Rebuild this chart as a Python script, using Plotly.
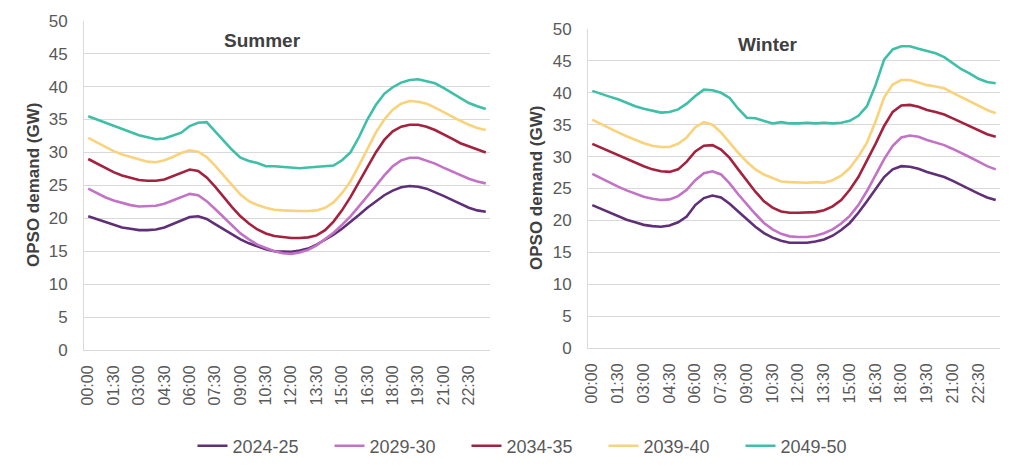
import plotly.graph_objects as go

times = [f"{h:02d}:{m:02d}" for h in range(24) for m in (0, 30)]
tick_labels = times[::3]

series_names = ["2024-25", "2029-30", "2034-35", "2039-40", "2049-50"]
colors = ["#5f2f78", "#c273c6", "#a3223f", "#f9d27c", "#3fbfa7"]

summer_2024 = [20.3, 19.9, 19.4, 19.0, 18.6, 18.4, 18.2, 18.2, 18.3, 18.6, 19.1, 19.7, 20.2, 20.3, 19.9, 19.1,
               18.3, 17.5, 16.8, 16.2, 15.7, 15.3, 15.0, 14.9, 14.9, 15.1, 15.4, 16.0, 16.7, 17.5, 18.4, 19.4,
               20.5, 21.6, 22.6, 23.5, 24.2, 24.7, 24.9, 24.8, 24.5, 24.0, 23.4, 22.8, 22.2, 21.6, 21.2, 21.0]
summer_2029 = [24.5, 23.8, 23.2, 22.7, 22.3, 22.0, 21.8, 21.8, 21.9, 22.2, 22.7, 23.3, 23.7, 23.5, 22.6, 21.4,
               20.2, 18.9, 17.7, 16.8, 16.0, 15.5, 15.0, 14.7, 14.6, 14.8, 15.2, 15.9, 16.8, 17.8, 19.0, 20.3,
               21.8, 23.3, 24.9, 26.5, 27.9, 28.8, 29.2, 29.2, 28.8, 28.3, 27.7, 27.1, 26.5, 26.0, 25.6, 25.3]
summer_2034 = [29.0, 28.3, 27.6, 27.0, 26.5, 26.1, 25.8, 25.7, 25.7, 25.9, 26.4, 27.0, 27.4, 27.2, 26.2, 24.8,
               23.2, 21.7, 20.3, 19.2, 18.3, 17.7, 17.3, 17.1, 17.0, 17.0, 17.1, 17.4, 18.2, 19.5, 21.2, 23.2,
               25.5, 27.8, 30.0, 31.9, 33.2, 33.9, 34.2, 34.2, 33.9, 33.4, 32.8, 32.1, 31.4, 30.9, 30.4, 30.0]
summer_2039 = [32.2, 31.5, 30.8, 30.2, 29.7, 29.3, 28.9, 28.6, 28.5, 28.8, 29.3, 29.9, 30.3, 30.1, 29.3, 28.0,
               26.5, 25.0, 23.6, 22.6, 22.0, 21.6, 21.3, 21.2, 21.1, 21.1, 21.1, 21.2, 21.6, 22.4, 23.8, 25.6,
               28.0, 30.6, 33.0, 35.0, 36.5, 37.4, 37.8, 37.7, 37.4, 36.8, 36.1, 35.4, 34.8, 34.2, 33.7, 33.4]
summer_2049 = [35.5, 35.0, 34.5, 34.0, 33.5, 33.0, 32.6, 32.3, 32.0, 32.1, 32.5, 33.0, 34.0, 34.5, 34.6, 33.2,
               31.8, 30.4, 29.2, 28.7, 28.4, 27.9, 27.9, 27.8, 27.7, 27.6, 27.7, 27.8, 27.9, 28.0, 28.8, 30.0,
               32.3, 35.0, 37.2, 38.9, 39.9, 40.6, 41.0, 41.1, 40.8, 40.5, 39.8, 39.0, 38.2, 37.5, 37.0, 36.6]

winter_2024 = [22.4, 21.8, 21.2, 20.6, 20.1, 19.7, 19.3, 19.1, 19.0, 19.2, 19.7, 20.6, 22.4, 23.5, 23.9, 23.6,
               22.6, 21.4, 20.2, 19.0, 18.0, 17.3, 16.8, 16.5, 16.5, 16.5, 16.7, 17.0, 17.6, 18.5, 19.6, 21.2,
               23.0, 25.0, 26.8, 28.0, 28.5, 28.4, 28.1, 27.6, 27.2, 26.8, 26.2, 25.5, 24.8, 24.2, 23.6, 23.2]
winter_2029 = [27.3, 26.6, 26.0, 25.3, 24.7, 24.2, 23.7, 23.4, 23.2, 23.3, 23.8, 24.8, 26.3, 27.4, 27.7, 27.2,
               25.8, 24.1, 22.5, 21.0, 19.6, 18.6, 17.9, 17.5, 17.4, 17.4, 17.6, 18.0, 18.6, 19.5, 20.7, 22.4,
               24.6, 27.0, 29.6, 31.7, 33.0, 33.3, 33.1, 32.6, 32.2, 31.8, 31.2, 30.6, 29.9, 29.2, 28.5, 28.0]
winter_2034 = [32.0, 31.4, 30.8, 30.2, 29.6, 29.0, 28.5, 28.0, 27.7, 27.6, 28.0, 29.2, 30.8, 31.7, 31.8, 31.1,
               29.8, 28.0, 26.2, 24.5, 23.0, 22.0, 21.4, 21.2, 21.2, 21.3, 21.3, 21.6, 22.2, 23.2, 24.8, 26.8,
               29.3, 32.0, 34.8, 37.0, 38.0, 38.1, 37.8, 37.3, 37.0, 36.6, 36.0, 35.4, 34.7, 34.1, 33.5, 33.1]
winter_2039 = [35.8, 35.1, 34.4, 33.8, 33.2, 32.6, 32.1, 31.7, 31.5, 31.5, 32.0, 33.0, 34.6, 35.4, 35.0, 33.8,
               32.2, 30.6, 29.2, 28.0, 27.2, 26.6, 26.1, 26.0, 25.9, 25.9, 26.0, 25.9, 26.3, 27.0, 28.2, 30.0,
               32.2, 35.5, 39.3, 41.3, 42.0, 42.0, 41.6, 41.2, 41.0, 40.7, 40.0, 39.3, 38.6, 38.0, 37.3, 36.8]
winter_2049 = [40.3, 39.8, 39.4, 39.0, 38.4, 37.9, 37.5, 37.2, 36.9, 37.0, 37.4, 38.3, 39.5, 40.5, 40.4, 40.0,
               39.2, 37.5, 36.1, 36.0, 35.6, 35.2, 35.4, 35.2, 35.2, 35.3, 35.2, 35.3, 35.2, 35.3, 35.6, 36.4,
               37.9, 41.2, 45.2, 46.8, 47.3, 47.3, 46.9, 46.5, 46.2, 45.6, 44.6, 43.7, 43.0, 42.2, 41.7, 41.5]

summer = [summer_2024, summer_2029, summer_2034, summer_2039, summer_2049]
winter = [winter_2024, winter_2029, winter_2034, winter_2039, winter_2049]

W, H = 1024, 472
OFF = 8  # page body margin offset
FONT = "Liberation Sans, Arial, sans-serif"
TICK_COLOR = "#595959"
GRID = "#d9d9d9"


def fx(px):
    return (px - OFF) / W


def fy(py):
    return (H - (py - OFF)) / H


fig = go.Figure()
for name, col, ys in zip(series_names, colors, summer):
    fig.add_trace(go.Scatter(x=times, y=ys, mode="lines", name=name,
                             line=dict(color=col, width=2.6), xaxis="x", yaxis="y"))
for name, col, ys in zip(series_names, colors, winter):
    fig.add_trace(go.Scatter(x=times, y=ys, mode="lines", name=name, showlegend=False,
                             line=dict(color=col, width=2.6), xaxis="x2", yaxis="y2"))


def xax(domain, anchor):
    return dict(domain=domain, anchor=anchor, type="category", range=[-0.5, 47.5],
                tickmode="array", tickvals=tick_labels, ticktext=tick_labels,
                tickangle=-90, tickfont=dict(family=FONT, size=16, color=TICK_COLOR),
                showline=True, linecolor=GRID, linewidth=1, showgrid=False,
                ticks="", ticklabelstandoff=8, fixedrange=True, automargin=False)


def yax(domain, anchor):
    return dict(domain=domain, anchor=anchor, range=[0, 50], dtick=5, tick0=0,
                tickfont=dict(family=FONT, size=17, color=TICK_COLOR),
                showgrid=True, gridcolor=GRID, gridwidth=1,
                showline=True, linecolor=GRID, linewidth=1, zeroline=False,
                ticks="", ticklabelstandoff=12, fixedrange=True, automargin=False)


fig.update_layout(
    width=W, height=H,
    margin=dict(l=0, r=0, t=0, b=0, autoexpand=False),
    paper_bgcolor="white", plot_bgcolor="white",
    font=dict(family=FONT, color=TICK_COLOR),
    xaxis=xax([fx(84), fx(490)], "y"),
    yaxis=yax([fy(350), fy(20.7)], "x"),
    xaxis2=xax([fx(588), fx(1000)], "y2"),
    yaxis2=yax([fy(348), fy(29)], "x2"),
    showlegend=True,
    legend=dict(orientation="h", x=fx(535), xanchor="center", y=fy(446), yanchor="middle",
                font=dict(family=FONT, size=18, color=TICK_COLOR),
                entrywidth=92, entrywidthmode="pixels", itemwidth=30, bgcolor="rgba(0,0,0,0)"),
    annotations=[
        dict(text="<b>Summer</b>", x=fx(262), y=fy(40), xref="paper", yref="paper",
             xanchor="center", yanchor="middle",
             showarrow=False, font=dict(family=FONT, size=19, color="#404040")),
        dict(text="<b>Winter</b>", x=fx(768), y=fy(44), xref="paper", yref="paper",
             xanchor="center", yanchor="middle",
             showarrow=False, font=dict(family=FONT, size=19, color="#404040")),
        dict(text="<b>OPSO demand (GW)</b>", x=fx(33), y=fy(185), xref="paper", yref="paper",
             xanchor="center", yanchor="middle",
             showarrow=False, textangle=-90, font=dict(family=FONT, size=17, color="#404040")),
        dict(text="<b>OPSO demand (GW)</b>", x=fx(536), y=fy(188), xref="paper", yref="paper",
             xanchor="center", yanchor="middle",
             showarrow=False, textangle=-90, font=dict(family=FONT, size=17, color="#404040")),
    ],
)

fig.write_html("out.html")
